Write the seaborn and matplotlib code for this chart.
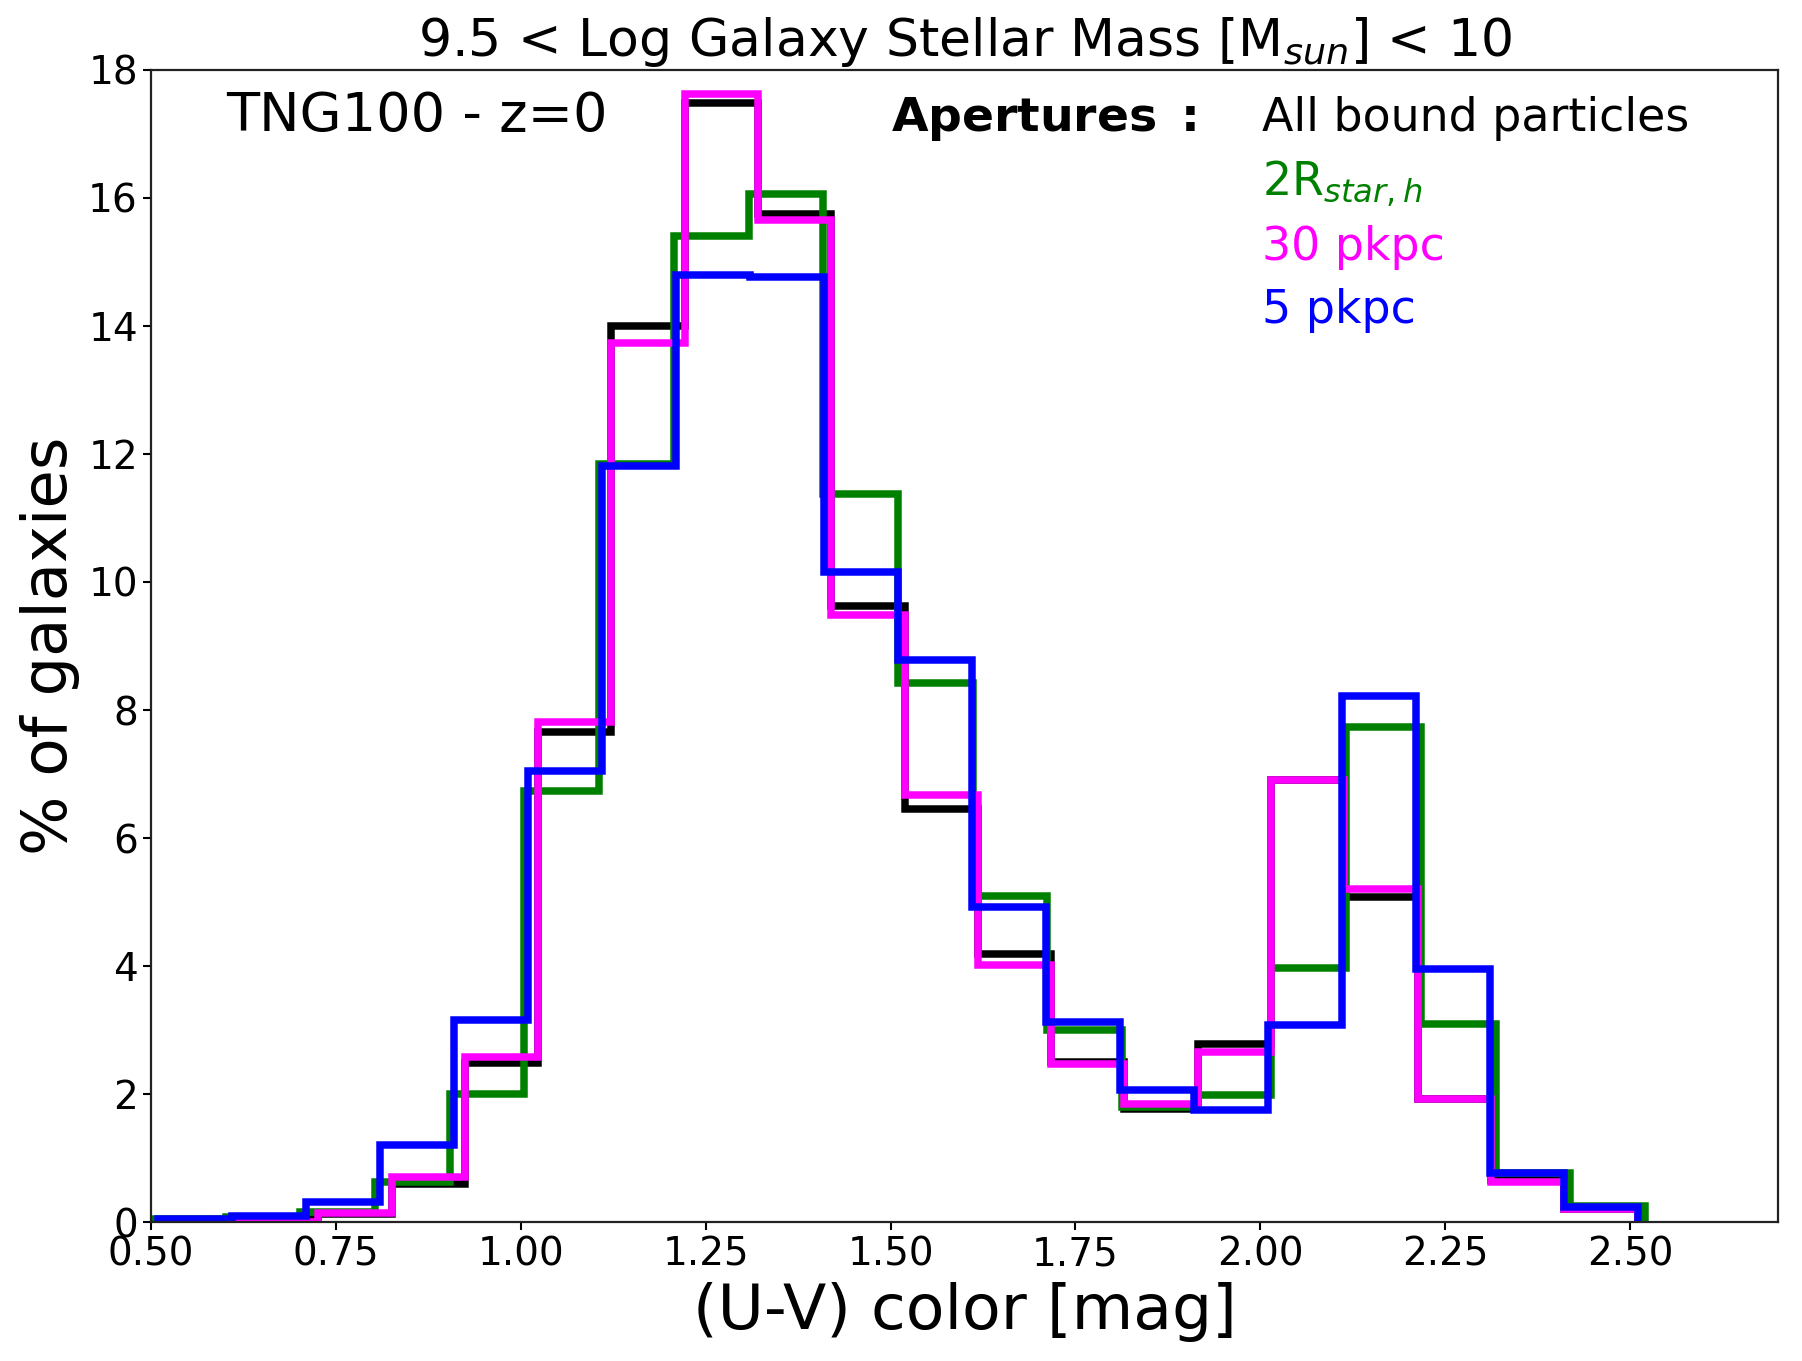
import numpy as np
import pandas as pd
import matplotlib
matplotlib.use("Agg")
import matplotlib.pyplot as plt
import seaborn as sns

# ---------------- data ----------------
series_names = ["All bound particles", "2R$_{star,h}$", "30 pkpc", "5 pkpc"]
series_colors = ["black", "green", "magenta", "blue"]

# histogram bins of each aperture (first edge, bin width, 20 bins)
bin_start = [0.528, 0.500, 0.528, 0.510]
bin_width = [0.0991, 0.101, 0.0991, 0.100]

pct_all = [0.02, 0.05, 0.12, 0.59, 2.48, 7.65, 14.0, 17.48, 15.75, 9.62,
           6.45, 4.19, 2.50, 1.77, 2.78, 6.90, 5.08, 1.93, 0.65, 0.20]
pct_2r = [0.04, 0.08, 0.16, 0.62, 2.00, 6.73, 11.85, 15.40, 16.06, 11.38,
          8.42, 5.09, 3.00, 1.80, 1.99, 3.97, 7.74, 3.10, 0.77, 0.25]
pct_30 = [0.0, 0.0, 0.14, 0.70, 2.58, 7.81, 13.74, 17.62, 15.66, 9.48,
          6.67, 4.01, 2.47, 1.84, 2.66, 6.90, 5.20, 1.92, 0.63, 0.20]
pct_5 = [0.04, 0.09, 0.31, 1.20, 3.15, 7.05, 11.82, 14.80, 14.76, 10.16,
         8.78, 4.92, 3.13, 2.07, 1.75, 3.08, 8.22, 3.95, 0.76, 0.23]
series_values = [pct_all, pct_2r, pct_30, pct_5]

x_ticks = [0.50, 0.75, 1.00, 1.25, 1.50, 1.75, 2.00, 2.25, 2.50]
y_ticks = [0, 2, 4, 6, 8, 10, 12, 14, 16, 18]

title = "9.5 < Log Galaxy Stellar Mass [M$_{sun}$] < 10"
xlabel = "(U-V) color [mag]"
ylabel = "% of galaxies"

# ---------------- style ----------------
sns.set_style("ticks")
plt.rcParams["font.family"] = ["DejaVu Sans"]
plt.rcParams["mathtext.fontset"] = "dejavusans"
plt.rcParams["lines.solid_joinstyle"] = "miter"
plt.rcParams["text.color"] = "black"
plt.rcParams["axes.labelcolor"] = "black"

fig = plt.figure(figsize=(18.02, 13.61), dpi=100)
ax = fig.add_axes([0.0838, 0.1021, 0.9029, 0.8465])

eps = 1e-4
for name, color, start, width, vals in zip(series_names, series_colors,
                                           bin_start, bin_width, series_values):
    n = len(vals)
    edges = start + width * np.arange(n + 1)
    centers = 0.5 * (edges[:-1] + edges[1:])
    # tiny empty bins at both ends so the outline drops to zero like a step histogram
    bins = [float(edges[0] - eps)] + [float(e) for e in edges] + [float(edges[-1] + eps)]
    xs = np.concatenate([[edges[0] - eps / 2], centers, [edges[-1] + eps / 2]])
    ws = np.concatenate([[0.0], vals, [0.0]])
    df = pd.DataFrame({"color_uv": xs, "pct": ws})
    sns.histplot(data=df, x="color_uv", weights="pct", bins=bins,
                 element="step", fill=False, color=color, linewidth=5.4,
                 ax=ax)

ax.set_xlim(0.5, 2.7)
ax.set_ylim(0, 18)
ax.set_xticks(x_ticks)
ax.set_xticklabels([f"{t:.2f}" for t in x_ticks])
ax.set_yticks(y_ticks)
ax.tick_params(axis="both", labelsize=28, direction="out", length=6, width=1.5,
               color="black", labelcolor="black")
for sp in ax.spines.values():
    sp.set_linewidth(1.6)
    sp.set_color("#222222")

ax.set_xlabel(xlabel, fontsize=45.5, labelpad=6, color="black")
ax.set_ylabel(ylabel, fontsize=45, labelpad=6, color="black")
ax.set_title(title, fontsize=37.5, pad=10, color="black")

ax.text(0.046, 0.947, "TNG100 - z=0", transform=ax.transAxes, fontsize=39,
        ha="left", va="baseline", color="black")
ax.text(0.455, 0.947, r"$\bf{Apertures\ :}$", transform=ax.transAxes,
        fontsize=34, ha="left", va="baseline", color="black")
label_y = [0.947, 0.891, 0.835, 0.780]
for name, color, yy in zip(series_names, series_colors, label_y):
    ax.text(0.683, yy, name, transform=ax.transAxes, fontsize=33,
            ha="left", va="baseline", color=color)

fig.savefig("out.png", dpi=100)
